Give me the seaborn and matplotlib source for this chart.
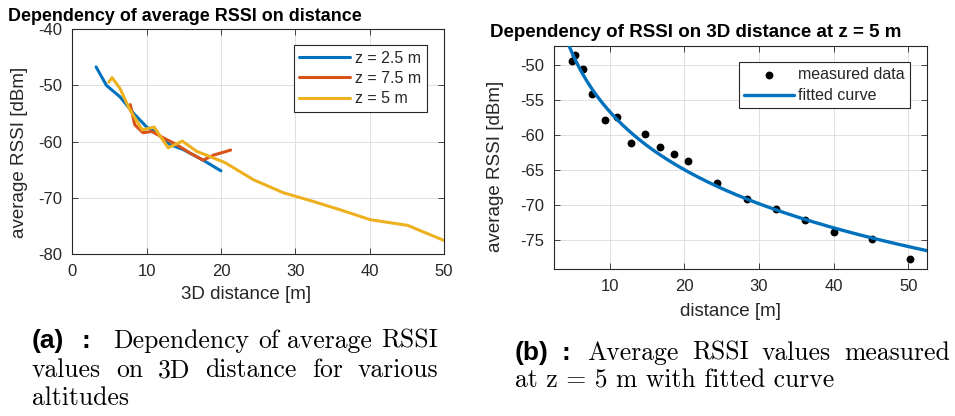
import numpy as np
import pandas as pd
import matplotlib
matplotlib.use("Agg")
import matplotlib.pyplot as plt
import seaborn as sns

# ---------------- data ----------------
dist_z25 = [3.2, 4.6, 6.4, 8.2, 10.0, 11.3, 13.1, 14.9, 17.6, 20.0]
rssi_z25 = [-46.7, -50.0, -52.0, -54.9, -57.4, -58.4, -60.5, -61.4, -63.3, -65.2]

dist_z75 = [7.8, 8.4, 9.5, 10.7, 12.2, 14.0, 15.8, 17.6, 19.0, 21.3]
rssi_z75 = [-53.4, -57.0, -58.4, -58.2, -59.3, -60.5, -62.0, -63.3, -62.4, -61.5]

dist_z5 = [4.9, 5.35, 6.4, 7.7, 9.4, 11.0, 12.9, 14.8, 16.7, 18.6, 20.5,
           24.4, 28.4, 32.3, 36.2, 40.1, 45.1, 50.2]
rssi_z5 = [-49.4, -48.6, -50.5, -54.2, -57.9, -57.4, -61.1, -59.9, -61.7,
           -62.7, -63.7, -66.8, -69.1, -70.6, -72.2, -73.9, -74.9, -77.7]

series_labels = ["z = 2.5 m", "z = 7.5 m", "z = 5 m"]
left_xticks = [0, 10, 20, 30, 40, 50]
left_yticks = [-80, -70, -60, -50, -40]
right_xticks = [10, 20, 30, 40, 50]
right_yticks = [-75, -70, -65, -60, -55, -50]

title_a = "Dependency of average RSSI on distance"
title_b = "Dependency of RSSI on 3D distance at z = 5 m"

# ---------------- style ----------------
sns.set_style("white")
DARK = "#262626"
plt.rcParams.update({
    "font.family": ["Liberation Sans", "DejaVu Sans"],
    "axes.unicode_minus": False,
    "axes.edgecolor": DARK,
    "axes.linewidth": 0.8,
    "axes.labelcolor": DARK,
    "xtick.color": DARK,
    "ytick.color": DARK,
    "grid.color": "#e0e0e0",
    "grid.linewidth": 0.7,
})

BLUE = "#0072BD"
ORANGE = "#D95319"
YELLOW = "#EDB120"

W, H = 955, 416
fig = plt.figure(figsize=(W / 100, H / 100), dpi=100)


def px_axes(l, t, r, b):
    return fig.add_axes([l / W, 1 - b / H, (r - l) / W, (b - t) / H])


ax1 = px_axes(72.3, 29.3, 444, 254)
ax2 = px_axes(554, 45.7, 927, 269.3)

for ax in (ax1, ax2):
    ax.grid(True)
    ax.set_axisbelow(True)
    ax.tick_params(which="both", direction="in", top=True, right=True,
                   bottom=True, left=True, length=4, width=0.6,
                   labelsize=12, pad=7, colors=DARK)
    for s in ax.spines.values():
        s.set_visible(True)
        s.set_color(DARK)
        s.set_linewidth(0.8)

# ---------------- left plot ----------------
df_a = pd.concat([
    pd.DataFrame({"dist": dist_z25, "rssi": rssi_z25, "alt": series_labels[0]}),
    pd.DataFrame({"dist": dist_z75, "rssi": rssi_z75, "alt": series_labels[1]}),
    pd.DataFrame({"dist": dist_z5, "rssi": rssi_z5, "alt": series_labels[2]}),
])
sns.lineplot(data=df_a, x="dist", y="rssi", hue="alt",
             palette=[BLUE, ORANGE, YELLOW], hue_order=series_labels,
             sort=False, estimator=None, linewidth=2.2, ax=ax1, legend=True)
ax1.set_xlim(0, 50)
ax1.set_ylim(-80, -40)
ax1.set_xticks(left_xticks)
ax1.set_yticks(left_yticks)
ax1.set_xlabel("3D distance [m]", fontsize=13.5)
ax1.set_ylabel("average RSSI [dBm]", fontsize=13.5)
ax1.xaxis.set_label_coords(0.467, -0.144)
ax1.yaxis.set_label_coords(-0.1205, 0.454)
ax1.set_title(title_a, loc="left", x=(8 - 72.3) / 371.7, fontsize=12.9,
              fontweight="bold", pad=6.2, color="black")
h, l = ax1.get_legend_handles_labels()
leg1 = ax1.legend(h, l, loc="upper right", bbox_to_anchor=(0.954, 0.930),
                  fontsize=11.5, handlelength=3.2, handletextpad=0.3,
                  borderpad=0.35, labelspacing=0.34, borderaxespad=0,
                  fancybox=False, edgecolor=DARK, framealpha=1)
leg1.get_frame().set_linewidth(0.8)

# ---------------- right plot ----------------
df_b = pd.DataFrame({"dist": dist_z5, "rssi": rssi_z5})
xlim_b = (2.55, 52.5)
coef = np.polyfit(np.log10(df_b["dist"]), df_b["rssi"], 1)
fit_x = np.linspace(xlim_b[0], xlim_b[1], 400)
df_fit = pd.DataFrame({"dist": fit_x, "rssi": np.polyval(coef, np.log10(fit_x))})

sns.scatterplot(data=df_b, x="dist", y="rssi", color="black", s=32,
                linewidth=0, ax=ax2, label="measured data", zorder=3)
sns.lineplot(data=df_fit, x="dist", y="rssi", color=BLUE, linewidth=2.4,
             ax=ax2, label="fitted curve", zorder=4)
ax2.set_xlim(*xlim_b)
ax2.set_ylim(-79.2, -47.24)
ax2.set_xticks(right_xticks)
ax2.set_yticks(right_yticks)
ax2.set_xlabel("distance [m]", fontsize=13.5)
ax2.set_ylabel("average RSSI [dBm]", fontsize=13.5)
ax2.xaxis.set_label_coords(0.473, -0.1525)
ax2.yaxis.set_label_coords(-0.135, 0.46)
ax2.set_title(title_b, loc="left", x=(490 - 554) / 373, fontsize=13.5,
              fontweight="bold", pad=6.5, color="black")
leg2 = ax2.legend(loc="upper right", bbox_to_anchor=(0.954, 0.926),
                  fontsize=11.5, handlelength=3.1, handletextpad=0.3,
                  borderpad=0.3, labelspacing=0.4, borderaxespad=0,
                  fancybox=False, edgecolor=DARK, framealpha=1,
                  scatterpoints=1)
leg2.get_frame().set_linewidth(0.8)

# ---------------- captions ----------------
renderer = fig.canvas.get_renderer()
SERIF = dict(fontfamily="cmr10", fontsize=18.5, color="black")
BOLD = dict(fontfamily=["Liberation Sans", "DejaVu Sans"], fontsize=19,
            fontweight="bold", color="black")


def text_width(s, **kw):
    t = fig.text(0, 0, s, **kw)
    w = t.get_window_extent(renderer).width
    t.remove()
    return w


def put(s, x, y, **kw):
    fig.text(x / W, 1 - y / H, s, ha="left", va="baseline", **kw)


def justified(line, x0, x1, y, **kw):
    words = line.split()
    widths = [text_width(w, **kw) for w in words]
    gap = (x1 - x0 - sum(widths)) / (len(words) - 1)
    x = x0
    for w, wd in zip(words, widths):
        put(w, x, y, **kw)
        x += wd + gap


put("(a)", 32, 348, **BOLD)
put(":", 81, 348, **BOLD)
justified("Dependency of average RSSI", 113, 438, 348, **SERIF)
justified("values on 3D distance for various", 32, 438, 377, **SERIF)
put("altitudes", 32, 405, **SERIF)

put("(b)", 515, 360, **BOLD)
put(":", 561, 360, **BOLD)
justified("Average RSSI values measured", 587, 950, 360, **SERIF)
put("at z = 5 m with fitted curve", 515, 388, **SERIF)

fig.savefig("out.png", dpi=100)
